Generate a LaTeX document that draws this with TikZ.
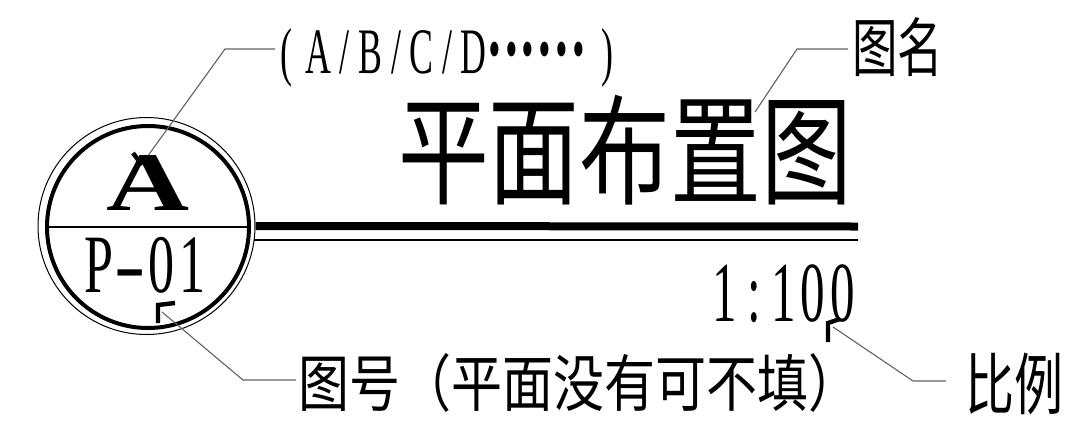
\documentclass[tikz,border=0pt]{standalone}
\usepackage{graphicx}
\usepackage{fontspec}
\setmainfont{Liberation Serif}
\newfontfamily\cjk{Noto Sans CJK SC}
\newcommand\fitbox[3]{\resizebox*{#1pt}{#2pt}{#3}}
\newcommand\mc[2][0.6em]{\makebox[#1]{#2}}
\newcommand\ma[1]{\makebox[0.72em]{#1}}
\newcommand\md{\makebox[0.47em]{\raisebox{-0.1em}{\scalebox{1.4}{\textbf{·}}}}}
\tikzset{
  txt/.style={inner sep=0pt, outer sep=0pt},
  leader/.style={draw=black!62, line width=0.55pt},
  hookmark/.style={draw=black, line width=2.2pt},
}
\begin{document}
\begin{tikzpicture}[x=0.5pt, y=-0.5pt]
\useasboundingbox (0,0) rectangle (1080,434);
% symbol circles
\node[circle, draw, line width=0.5pt, minimum size=108.5pt, inner sep=0pt] (symo) at (146.5,226) {};
\node[circle, draw, line width=2pt, minimum size=101pt, inner sep=0pt] (sym) at (148,227) {};
\draw[line width=0.6pt] (sym.west) -- (sym.east);
% title lines
\coordinate (thickend) at (858,226.5);
\coordinate (thinstart) at (254,240);
\coordinate (thinend) at (858,240);
\draw[line width=4pt] (symo.east) -- (thickend);
\draw[line width=0.6pt] (thinstart) -- (thinend);
% texts
\node[txt] (Aletter) at (148.5,182.5) {\fitbox{41.5}{27.5}{\bfseries A}};
\node[txt] (P01) at (145.5,265) {\fitbox{62.5}{28}{\mc{P}\mc{\scalebox{1.8}[1]{-}}\mc{0}\mc{1}}};
\node[txt, anchor=base west] (abcd) at (280,73) {\resizebox{166.5pt}{22.5pt}{\makebox[0.72em][l]{(}\ma{A}\ma{/}\ma{B}\ma{/}\ma{C}\ma{/}\ma{D}\md\md\md\md\md\md\makebox[0.72em][r]{)}}};
\node[txt] (title) at (625,150) {\fitbox{227}{55}{\cjk 平面布置图}};
\node[txt] (tuming) at (897.5,47.5) {\fitbox{45.5}{29.5}{\cjk 图名}};
\node[txt] (scale) at (783.5,294) {\fitbox{73.5}{29}{\mc{1}\mc{:}\mc{1}\mc{0}\mc{0}}};
\node[txt] (bili) at (1014,384) {\fitbox{49}{31}{\cjk 比例}};
\node[txt] (tuhao) at (578.5,382.5) {\fitbox{280.5}{29.5}{\cjk 图号（平面没有可不填）}};
% leader end points
\coordinate (abcdL) at (275,49);
\coordinate (abcdK) at (225,49);
\coordinate (tumingL) at (848,49);
\coordinate (tumingK) at (797,49);
\coordinate (tumingE) at (755,112);
\coordinate (tuhaoS) at (162,312);
\coordinate (tuhaoK) at (243,380);
\coordinate (tuhaoL) at (296,380);
\coordinate (biliS) at (833,327);
\coordinate (biliK) at (913,381);
\coordinate (biliL) at (946,381);
% leaders
\draw[leader] (abcdL) -- (abcdK) -- (Aletter.north);
\draw[leader] (tumingL) -- (tumingK) -- (tumingE);
\draw[leader] (tuhaoS) -- (tuhaoK) -- (tuhaoL);
\draw[leader] (biliS) -- (biliK) -- (biliL);
% hook marks
\draw[hookmark] (133,153) -- (142,165);
\draw[hookmark] (158,323) -- (158,305) -- (175,303);
\draw[hookmark] (828,342) -- (828,323) -- (840,319);
\end{tikzpicture}
\end{document}
